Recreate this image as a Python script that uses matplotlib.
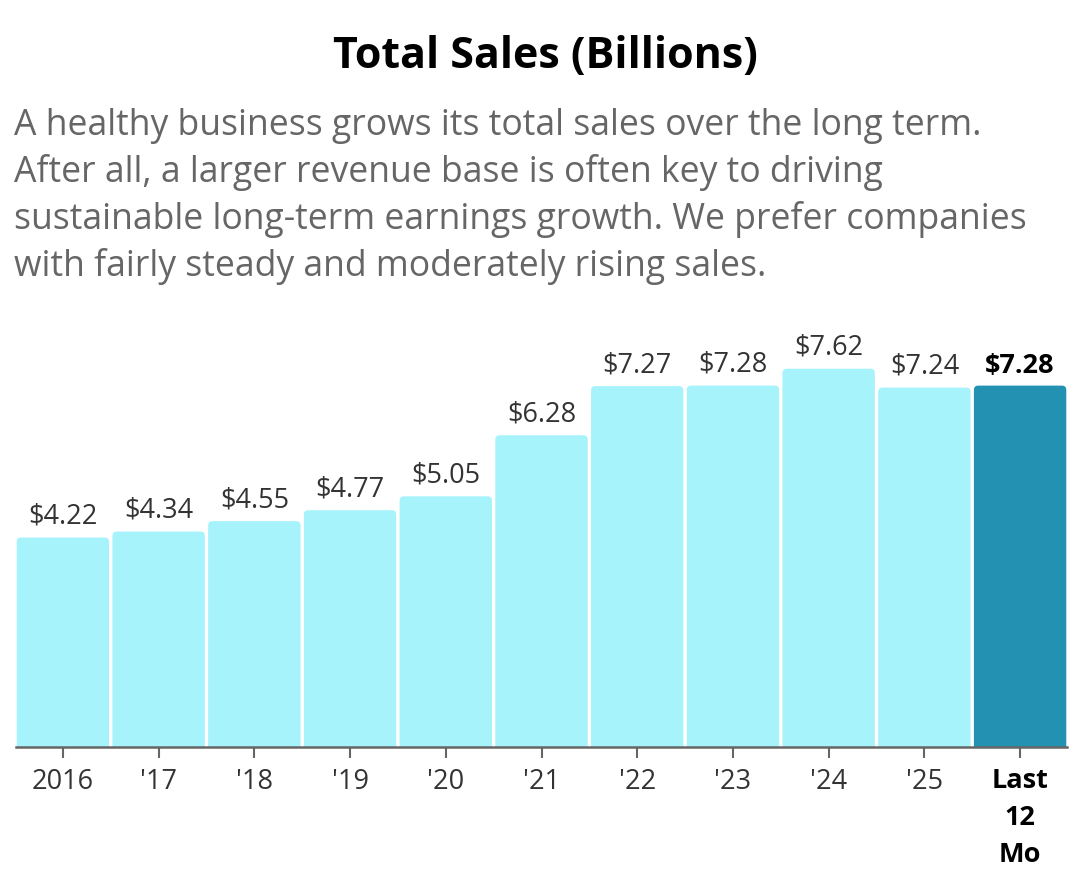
import matplotlib.pyplot as plt
from matplotlib.patches import FancyBboxPatch

plt.rcParams['font.family'] = ['Open Sans', 'DejaVu Sans']

# data
labels = ['2016', "'17", "'18", "'19", "'20", "'21", "'22", "'23", "'24", "'25", 'Last\n12\nMo']
sales = [4.22, 4.34, 4.55, 4.77, 5.05, 6.28, 7.27, 7.28, 7.62, 7.24, 7.28]
title = "Total Sales (Billions)"
subtitle = [
    "A healthy business grows its total sales over the long term.",
    "After all, a larger revenue base is often key to driving",
    "sustainable long-term earnings growth. We prefer companies",
    "with fairly steady and moderately rising sales.",
]

light = '#a6f3fb'
dark = '#2391b1'
colors = [light] * (len(sales) - 1) + [dark]

W, H = 1091, 885
fig = plt.figure(figsize=(W / 100, H / 100), dpi=100)
ax = fig.add_axes([16 / W, 1 - 747 / H, 1051 / W, 417 / H])

x = list(range(len(sales)))
bars = ax.bar(x, sales, width=0.965, color=colors)

# swap the plain rectangles for ones with slightly rounded corners
for b, c in zip(bars, colors):
    bx, by = b.get_x(), b.get_y()
    bw, bh = b.get_width(), b.get_height()
    b.set_visible(False)
    p = FancyBboxPatch((bx, by - 0.3), bw, bh + 0.3,
                       boxstyle="round,pad=0,rounding_size=0.045",
                       mutation_aspect=1.93, facecolor=c, edgecolor='none',
                       clip_on=True)
    ax.add_patch(p)

ax.set_xlim(-0.49, len(sales) - 0.51)
ax.set_ylim(0, 8.4)

for i, v in enumerate(sales):
    last = i == len(sales) - 1
    ax.annotate(f"${v:.2f}", (i, v), xytext=(0, 5), textcoords='offset points',
                ha='center', va='bottom', fontsize=19.5,
                color='black' if last else '#333333',
                fontweight='bold' if last else 'normal')

for s in ['top', 'right', 'left']:
    ax.spines[s].set_visible(False)
ax.spines['bottom'].set_color('#666666')
ax.spines['bottom'].set_linewidth(1.8)
ax.set_yticks([])
ax.set_xticks(x)
ax.set_xticklabels(labels, fontsize=19.5, color='#333333', linespacing=1.55)
ax.tick_params(axis='x', length=8, width=1.5, color='#666666', pad=7)
lab = ax.get_xticklabels()[-1]
lab.set_fontweight('bold')
lab.set_color('black')

fig.text(0.5, 1 - 68 / H, title, ha='center', va='baseline',
         fontsize=31, fontweight='bold', color='black')
for k, line in enumerate(subtitle):
    fig.text(14 / W, 1 - (135 + 47 * k) / H, line, ha='left', va='baseline',
             fontsize=25.6, color='#666666')

fig.savefig('out.png', dpi=100)
